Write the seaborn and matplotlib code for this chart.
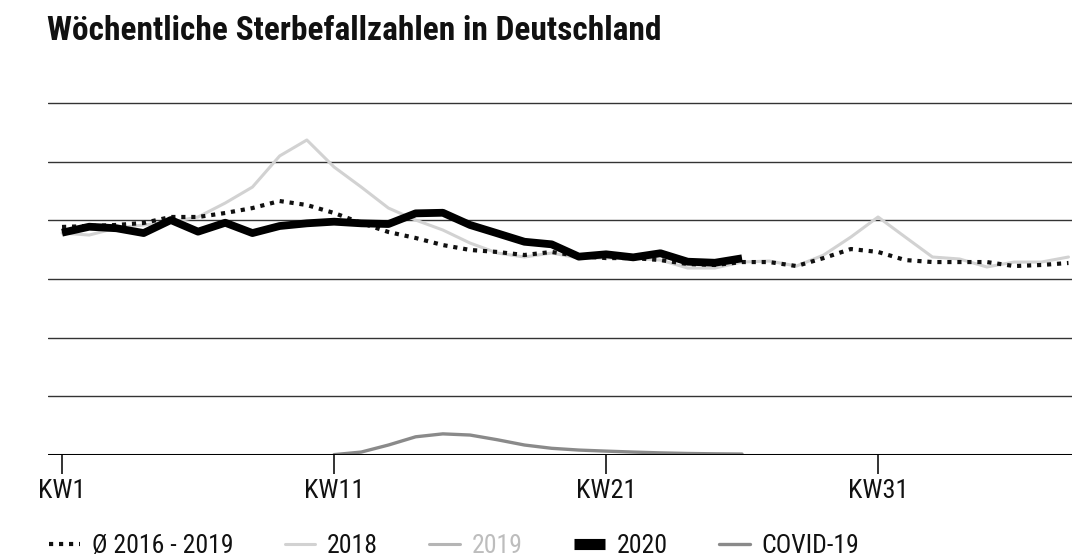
import numpy as np
import pandas as pd
import matplotlib
matplotlib.use("Agg")
import matplotlib.pyplot as plt
from matplotlib import font_manager
from matplotlib.lines import Line2D
import seaborn as sns

# ---- data (weekly deaths) ----
weeks_avg = list(range(1, 39))
avg_2016_2019 = [19430, 19510, 19600, 19770, 20280, 20280, 20620, 21040, 21640, 21300,
                 20620, 19770, 19000, 18490, 17890, 17470, 17300, 17040, 17300, 16950,
                 16780, 16780, 16610, 16270, 16190, 16440, 16440, 16100, 16780, 17550,
                 17300, 16610, 16440, 16440, 16440, 16100, 16190, 16360]
weeks_2018 = list(range(1, 39))
deaths_2018 = [18910, 18740, 19340, 19600, 19850, 20280, 21470, 22830, 25480, 26840,
               24540, 22830, 21040, 20020, 19170, 18060, 17210, 16870, 17210, 16780,
               16780, 16780, 16610, 15930, 15930, 16440, 16530, 16100, 17040, 18570,
               20280, 18570, 16870, 16700, 16020, 16440, 16440, 16870]
weeks_2020 = list(range(1, 27))
deaths_2020 = [18940, 19450, 19320, 18910, 20020, 19030, 19790, 18910, 19510, 19740,
               19880, 19740, 19680, 20590, 20640, 19600, 18890, 18170, 17950, 16900,
               17100, 16840, 17190, 16470, 16380, 16760]
weeks_covid = list(range(11, 27))
deaths_covid = [30, 250, 850, 1550, 1800, 1700, 1300, 850, 570, 420,
                330, 250, 180, 130, 100, 80]
tick_weeks = [1, 11, 21, 31]
tick_labels = ["KW1", "KW11", "KW21", "KW31"]
legend_labels = ["Ø 2016 - 2019", "2018", "2019", "2020", "COVID-19"]
title = "Wöchentliche Sterbefallzahlen in Deutschland"

# ---- style ----
sns.set_theme(style="white")
available = {f.name for f in font_manager.fontManager.ttflist}
fam = None
for cand in ["Liberation Sans Narrow", "Roboto Condensed", "Open Sans Condensed", "Roboto", "DejaVu Sans"]:
    if cand in available:
        fam = cand
        break
plt.rcParams["font.family"] = [fam, "DejaVu Sans"]

fig = plt.figure(figsize=(10.72, 5.58), dpi=100)
fig.patch.set_facecolor("white")
ax = fig.add_axes([0.0448, 0.1846, 0.9552, 0.652])
ax.set_facecolor("white")

df_avg = pd.DataFrame({"KW": weeks_avg, "v": avg_2016_2019})
df_18 = pd.DataFrame({"KW": weeks_2018, "v": deaths_2018})
df_20 = pd.DataFrame({"KW": weeks_2020, "v": deaths_2020})
df_cv = pd.DataFrame({"KW": weeks_covid, "v": deaths_covid})

# gridlines
for yv in [5000, 10000, 15000, 20000, 25000, 30000]:
    ax.axhline(yv, color="#333333", lw=1.0, zorder=0)

sns.lineplot(data=df_18, x="KW", y="v", ax=ax, color="#d2d2d2", lw=2.2, zorder=2)
sns.lineplot(data=df_avg, x="KW", y="v", ax=ax, color="#111111", lw=3.0,
             linestyle=(0, (1, 1.4)), zorder=3)
sns.lineplot(data=df_20, x="KW", y="v", ax=ax, color="#000000", lw=5.6, zorder=4,
             solid_joinstyle="round", solid_capstyle="butt")
sns.lineplot(data=df_cv, x="KW", y="v", ax=ax, color="#8a8a8a", lw=2.4, zorder=4)

ax.axhline(0, color="#000000", lw=2.2, zorder=5)

ax.set_xlim(0.485, 38.13)
ax.set_ylim(0, 31000)
ax.set_xlabel("")
ax.set_ylabel("")
ax.set_yticks([])
ax.set_xticks(tick_weeks)
ax.set_xticklabels(tick_labels, fontsize=19, color="#111111")
ax.tick_params(axis="x", direction="out", length=14, width=1.2, color="#111111", pad=3, bottom=True)
for s in ["top", "right", "left", "bottom"]:
    ax.spines[s].set_visible(False)

fig.text(0.044, 0.945, title, fontsize=24, fontweight="bold", color="#111111",
         va="center", ha="left")

handles = [
    Line2D([], [], color="#111111", lw=3.0, linestyle=(0, (1, 1.4))),
    Line2D([], [], color="#d2d2d2", lw=2.2),
    Line2D([], [], color="#b5b5b5", lw=2.2),
    Line2D([], [], color="#000000", lw=8, solid_capstyle="butt"),
    Line2D([], [], color="#8a8a8a", lw=2.4),
]
leg = fig.legend(handles, legend_labels, loc="center left", bbox_to_anchor=(0.046, 0.022),
                 ncol=5, frameon=False, fontsize=18.5, handlelength=1.2, handletextpad=0.45,
                 columnspacing=2.0, borderpad=0.0, borderaxespad=0.0)
for t, c in zip(leg.get_texts(), ["#111111", "#111111", "#bdbdbd", "#111111", "#111111"]):
    t.set_color(c)

fig.savefig("out.png", dpi=100, facecolor="white")
